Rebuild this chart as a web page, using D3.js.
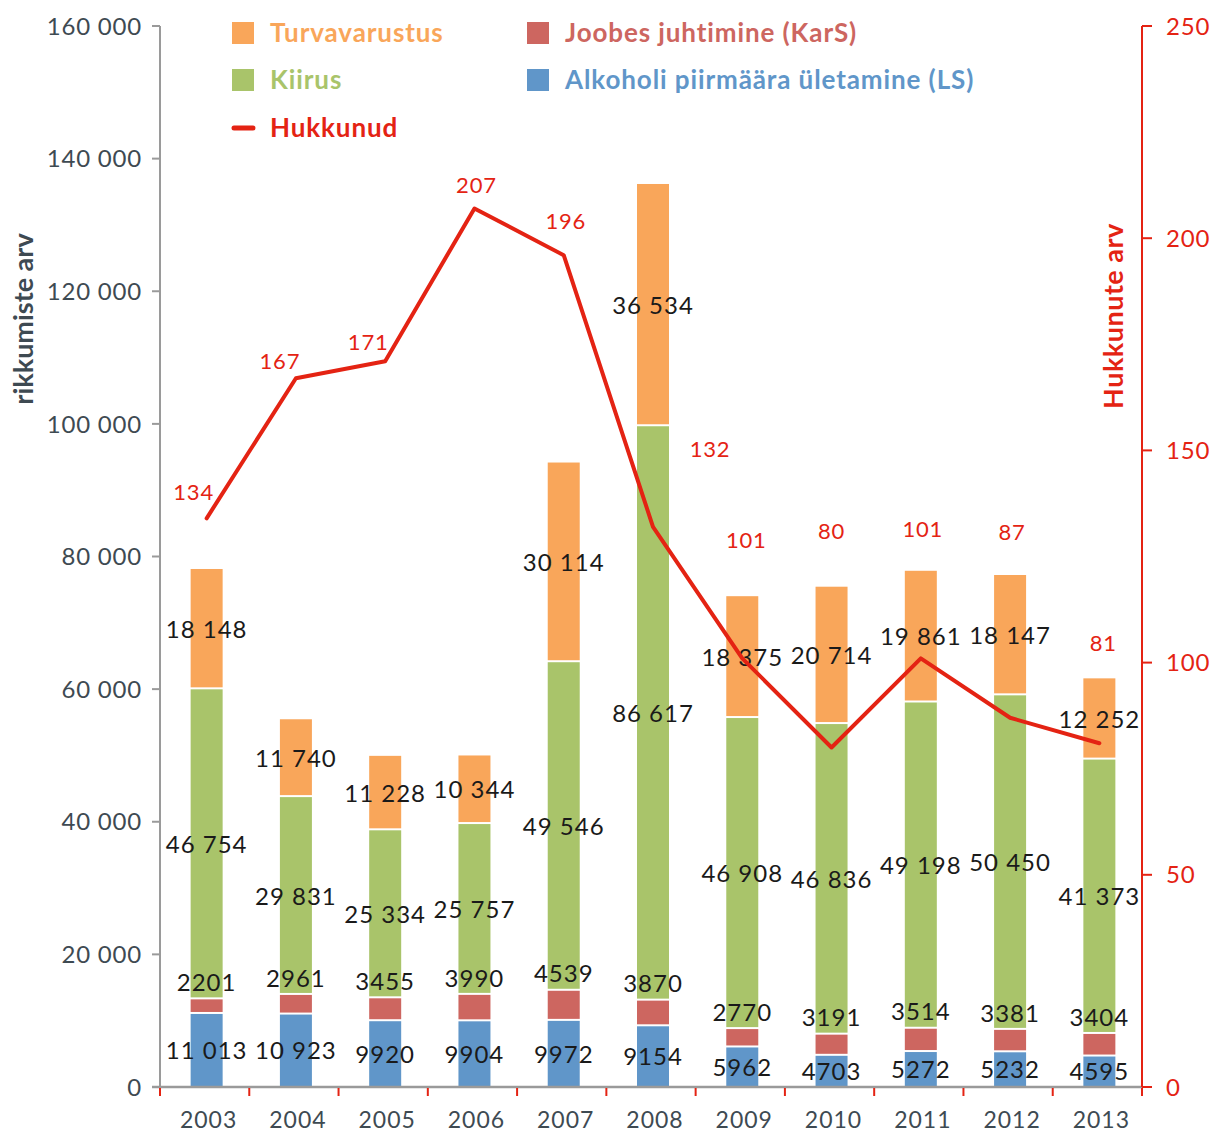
<!DOCTYPE html>
<html>
<head>
<meta charset="utf-8">
<script src="https://cdn.jsdelivr.net/npm/d3@7/dist/d3.min.js"></script>
<style>
html,body{margin:0;padding:0;background:#fff;}
svg{display:block;}
text{font-family:Lato,"Noto Sans",sans-serif;}
</style>
</head>
<body>
<svg id="chart" width="1214" height="1133"></svg>
<script>
// ---- Data ----
const years = ["2003","2004","2005","2006","2007","2008","2009","2010","2011","2012","2013"];
const alkohol = [11013,10923,9920,9904,9972,9154,5962,4703,5272,5232,4595];
const joobes  = [2201,2961,3455,3990,4539,3870,2770,3191,3514,3381,3404];
const kiirus  = [46754,29831,25334,25757,49546,86617,46908,46836,49198,50450,41373];
const turva   = [18148,11740,11228,10344,30114,36534,18375,20714,19861,18147,12252];
const hukkunud = [134,167,171,207,196,132,101,80,101,87,81];
const leftTicks = [0,20000,40000,60000,80000,100000,120000,140000,160000];
const rightTicks = [0,50,100,150,200,250];
const seriesNames = ["Alkoholi piirmäära ületamine (LS)","Joobes juhtimine (KarS)","Kiirus","Turvavarustus"];
const lineName = "Hukkunud";
const leftTitle = "rikkumiste arv";
const rightTitle = "Hukkunute arv";

// label offsets (pixels) for the fatality labels, as placed in the original
const lineLabelOffsets = [[-13,-26],[-16,-17],[-17,-19],[2,-23],[2,-34],[57,-78],[4,-118],[0,-216],[2,-129],[2,-186],[4,-100]];

// ---- Styles ----
const colors = {
  alkohol:"#6096c9", joobes:"#cd6660", kiirus:"#a9c46a", turva:"#f9a65a",
  line:"#e42313", text:"#1a1a1a", axisText:"#3e4a52", axis:"#9a9a9a"
};

const svg = d3.select("#chart");
const L = 160, R = 1142, T = 26, B = 1087;

const x = d3.scaleBand().domain(years).range([L, R]).paddingInner(0).paddingOuter(0);
const barW = 32;
const cx = y => x(y) + x.bandwidth()/2 + 2;
const yL = d3.scaleLinear().domain([0,160000]).range([B, T]);
const yR = d3.scaleLinear().domain([0,250]).range([B, T]);

const fmt = v => v >= 10000 ? d3.format(",")(v).replace(/,/g," ") : String(v);

// stacked data
const rows = years.map((y,i)=>({year:y, alkohol:alkohol[i], joobes:joobes[i], kiirus:kiirus[i], turva:turva[i]}));
const keys = ["alkohol","joobes","kiirus","turva"];
const stacked = d3.stack().keys(keys)(rows);

// bars
const gBars = svg.append("g");
stacked.forEach(layer=>{
  gBars.selectAll(null).data(layer).enter().append("rect")
    .attr("x", d=>cx(d.data.year)-barW/2)
    .attr("width", barW)
    .attr("y", d=>yL(d[1]))
    .attr("height", d=>Math.max(0, yL(d[0]) - yL(d[1]) - (layer.key==="alkohol"?0:2)))
    .attr("fill", colors[layer.key]);
});

// axes - left
const gL = svg.append("g").attr("transform",`translate(${L},0)`);
gL.append("line").attr("x1",0).attr("x2",0).attr("y1",T).attr("y2",B).attr("stroke",colors.axis).attr("stroke-width",2);
gL.selectAll(".t").data(leftTicks).enter().append("line")
  .attr("x1",-8).attr("x2",0).attr("y1",d=>yL(d)).attr("y2",d=>yL(d))
  .attr("stroke",colors.axis).attr("stroke-width",2);
gL.selectAll(".tl").data(leftTicks).enter().append("text")
  .attr("x",-18).attr("y",d=>yL(d)).attr("dy","0.36em").attr("text-anchor","end")
  .attr("fill",colors.axisText).style("font-size","24px").style("letter-spacing","0.8px")
  .text(d=>fmt(d));

// bottom axis
svg.append("line").attr("x1",152).attr("x2",R).attr("y1",B).attr("y2",B).attr("stroke",colors.axis).attr("stroke-width",2.5);
const bTicks = years.map(y=>x(y)).concat([R]);
svg.selectAll(".bt").data(bTicks).enter().append("line")
  .attr("x1",d=>d).attr("x2",d=>d).attr("y1",B+1).attr("y2",B+9)
  .attr("stroke",colors.line).attr("stroke-width",2);
svg.selectAll(".bl").data(years).enter().append("text")
  .attr("x",d=>cx(d)+2).attr("y",1128).attr("text-anchor","middle")
  .attr("fill",colors.axisText).style("font-size","23px").style("letter-spacing","1px")
  .text(d=>d);

// right axis
const gR = svg.append("g").attr("transform",`translate(${R},0)`);
gR.append("line").attr("x1",0).attr("x2",0).attr("y1",T).attr("y2",B).attr("stroke",colors.line).attr("stroke-width",2);
gR.selectAll(".t").data(rightTicks).enter().append("line")
  .attr("x1",0).attr("x2",10).attr("y1",d=>yR(d)).attr("y2",d=>yR(d))
  .attr("stroke",colors.line).attr("stroke-width",2);
gR.selectAll(".tl").data(rightTicks).enter().append("text")
  .attr("x",24).attr("y",d=>yR(d)).attr("dy","0.36em").attr("text-anchor","start")
  .attr("fill",colors.line).style("font-size","24px").style("letter-spacing","0.8px")
  .text(d=>d);

// axis titles
svg.append("text").attr("transform","translate(33,319) rotate(-90)").attr("text-anchor","middle")
  .attr("fill",colors.axisText).style("font-size","27px").style("font-weight","bold").text(leftTitle);
svg.append("text").attr("transform","translate(1123,316) rotate(-90)").attr("text-anchor","middle")
  .attr("fill",colors.line).style("font-size","27px").style("font-weight","bold").style("letter-spacing","0.5px").text(rightTitle);

// bar data labels
const gLab = svg.append("g").style("font-size","24px").attr("fill",colors.text).style("letter-spacing","1px");
stacked.forEach(layer=>{
  gLab.selectAll(null).data(layer).enter().append("text")
    .attr("x", d=>cx(d.data.year))
    .attr("y", d=> layer.key==="joobes" ? yL(d[1]) - 17 : (yL(d[0])+yL(d[1]))/2)
    .attr("dy","0.36em").attr("text-anchor","middle")
    .text(d=>fmt(d.data[layer.key]));
});

// line
const line = d3.line().x((d,i)=>cx(years[i])).y(d=>yR(d));
svg.append("path").datum(hukkunud).attr("d",line).attr("fill","none")
  .attr("stroke",colors.line).attr("stroke-width",4).attr("stroke-linecap","round").attr("stroke-linejoin","round");
svg.selectAll(".ll").data(hukkunud).enter().append("text")
  .attr("x",(d,i)=>cx(years[i])+lineLabelOffsets[i][0])
  .attr("y",(d,i)=>yR(d)+lineLabelOffsets[i][1])
  .attr("dy","0.36em").attr("text-anchor","middle")
  .attr("fill",colors.line).style("font-size","22px").style("letter-spacing","0.8px")
  .text(d=>d);

// legend
const legendItems = [
  {name:seriesNames[3], color:colors.turva, x:232, y:33, type:"rect"},
  {name:seriesNames[2], color:colors.kiirus, x:232, y:80, type:"rect"},
  {name:lineName, color:colors.line, x:232, y:128, type:"line"},
  {name:seriesNames[1], color:colors.joobes, x:527, y:33, type:"rect"},
  {name:seriesNames[0], color:colors.alkohol, x:527, y:80, type:"rect"}
];
const gLeg = svg.append("g");
legendItems.forEach(it=>{
  if(it.type==="rect"){
    gLeg.append("rect").attr("x",it.x).attr("y",it.y-11).attr("width",22).attr("height",22).attr("fill",it.color);
  } else {
    gLeg.append("line").attr("x1",it.x+2).attr("x2",it.x+21).attr("y1",it.y).attr("y2",it.y)
      .attr("stroke",it.color).attr("stroke-width",5).attr("stroke-linecap","round");
  }
  gLeg.append("text").attr("x",it.x+38).attr("y",it.y).attr("dy","0.36em")
    .attr("fill",it.color).style("font-size","26px").style("font-weight","bold").style("letter-spacing","0.9px").text(it.name);
});
</script>
</body>
</html>
